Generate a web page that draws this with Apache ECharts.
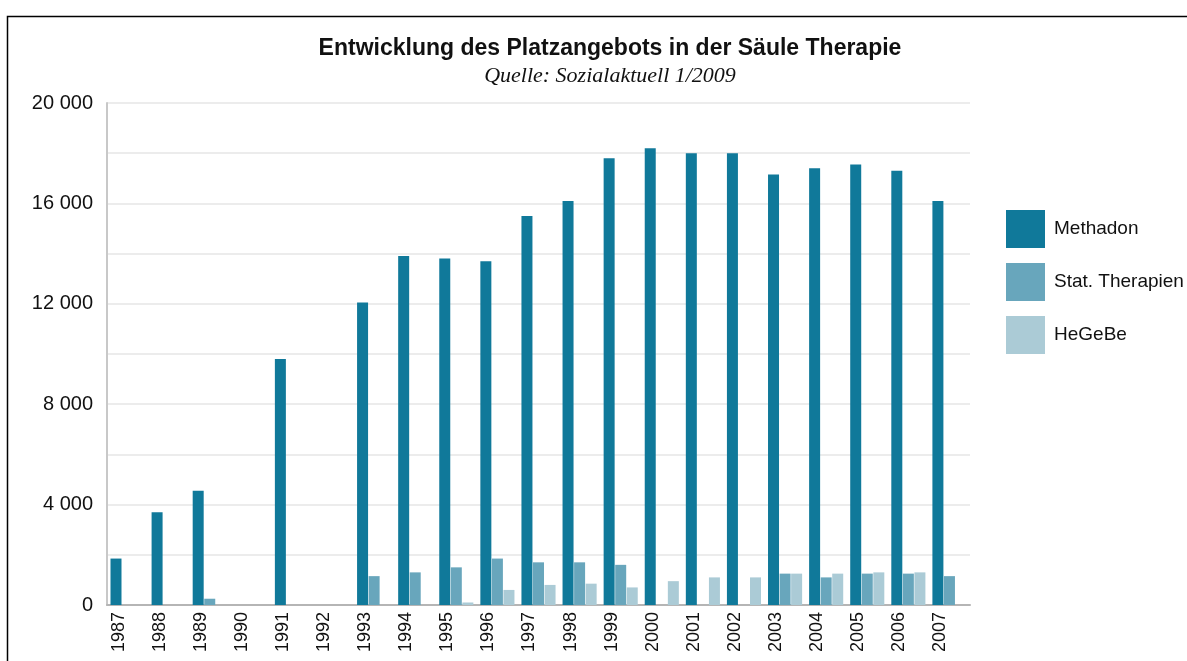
<!DOCTYPE html>
<html>
<head>
<meta charset="utf-8">
<script src="https://cdn.jsdelivr.net/npm/echarts@6/dist/echarts.min.js"></script>
<style>
  html, body { margin: 0; padding: 0; background: #fff; }
  #chart { width: 1187px; height: 661px; }
</style>
</head>
<body>
<div id="chart"></div>
<script>
// Daten
const years = ['1987', '1988', '1989', '1990', '1991', '1992', '1993', '1994', '1995', '1996', '1997',
    '1998', '1999', '2000', '2001', '2002', '2003', '2004', '2005', '2006', '2007']
const methadon = [1850, 3700, 4550, 0, 9800, 0, 12050, 13900, 13800, 13700, 15500,
    16100, 17800, 18200, 18000, 18000, 17150, 17400, 17550, 17300, 16100]
const statTherapien = [0, 0, 250, 0, 0, 0, 1150, 1300, 1500, 1850, 1700,
    1700, 1600, 0, 0, 0, 1250, 1100, 1250, 1250, 1150]
const hegebe = [0, 0, 0, 0, 0, 0, 0, 0, 100, 600, 800,
    850, 700, 950, 1100, 1100, 1250, 1250, 1300, 1300, 0]
const yTicks = [0, 4000, 8000, 12000, 16000, 20000]

const colors = ['#10799a', '#68a6bc', '#abcbd6']

// Tausender mit Leerzeichen
function formatNum(v) {
    return String(v).replace(/\B(?=(\d{3})+(?!\d))/g, ' ')
}

const chart = echarts.init(document.getElementById('chart'))
let option = {
    animation: false,
    color: colors,
    title: {
        text: 'Entwicklung des Platzangebots in der Säule Therapie',
        subtext: 'Quelle: Sozialaktuell 1/2009',
        left: 605,
        textAlign: 'center',
        top: 32,
        itemGap: 5,
        textStyle: {
            fontFamily: 'Liberation Sans Narrow, Liberation Sans, Arial',
            fontWeight: 'bold',
            fontSize: 23,
            color: '#111',
        },
        subtextStyle: {
            fontFamily: 'Liberation Serif, serif',
            fontStyle: 'italic',
            fontSize: 22,
            color: '#111',
        },
    },
    legend: {
        orient: 'vertical',
        left: 1001,
        top: 205,
        itemWidth: 39,
        itemHeight: 38,
        itemGap: 15,
        icon: 'rect',
        textStyle: {
            fontFamily: 'Liberation Sans Narrow, Liberation Sans, Arial',
            fontSize: 19,
            color: '#111',
            padding: [0, 0, 0, 4],
        },
        data: ['Methadon', 'Stat. Therapien', 'HeGeBe'],
    },
    graphic: [
        {
            type: 'rect',
            shape: { x: 7.5, y: 16.5, width: 1200, height: 700 },
            style: { fill: 'none', stroke: '#000', lineWidth: 1.5 },
            silent: true,
        },
    ],
    grid: {
        left: 107,
        right: 217,
        top: 103,
        bottom: 56,
    },
    xAxis: {
        type: 'category',
        data: years,
        axisLine: { lineStyle: { color: '#b5b5b5', width: 2 } },
        axisTick: { show: false },
        axisLabel: {
            rotate: 90,
            interval: 0,
            margin: 7,
            verticalAlign: 'bottom',
            fontFamily: 'Liberation Sans, Arial',
            fontSize: 18,
            color: '#111',
        },
    },
    yAxis: {
        type: 'value',
        min: 0,
        max: 20000,
        interval: 2000,
        axisLine: { show: true, lineStyle: { color: '#c8c8c8', width: 2 } },
        axisTick: { show: false },
        splitLine: { lineStyle: { color: '#ececec', width: 2 } },
        axisLabel: {
            margin: 14,
            fontFamily: 'Liberation Sans, Arial',
            fontSize: 20,
            color: '#111',
            formatter: function (v) {
                return yTicks.includes(v) ? formatNum(v) : ''
            },
        },
    },
    series: [
        { name: 'Methadon', type: 'bar', data: methadon, barWidth: 11, barGap: '5%' },
        { name: 'Stat. Therapien', type: 'bar', data: statTherapien, barWidth: 11, barGap: '5%' },
        { name: 'HeGeBe', type: 'bar', data: hegebe, barWidth: 11, barGap: '5%' },
    ],
}
chart.setOption(option)
</script>
</body>
</html>
